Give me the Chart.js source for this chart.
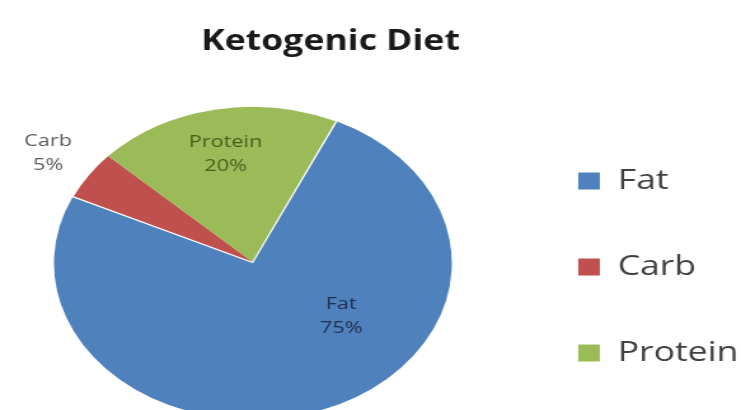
<!DOCTYPE html>
<html>
<head>
<meta charset="utf-8">
<title>Ketogenic Diet</title>
<script src="https://cdn.jsdelivr.net/npm/chart.js@4.4.1/dist/chart.umd.min.js"></script>
<style>
  html, body { margin: 0; padding: 0; background: #fff; overflow: hidden; }
  /* the reference is stretched sideways, so the bitmap is drawn narrow and widened by css */
  #chart { display: block; width: 741px !important; height: 430px !important; }
</style>
</head>
<body>
<canvas id="chart" width="583" height="430"></canvas>
<script>
const categories = ['Fat', 'Carb', 'Protein'];
const shares = [75, 5, 20];

const sliceColors = ['#4F81BD', '#C0504D', '#9BBB59'];
const labelColors = ['#1F2F4F', '#595959', '#44611B'];
// label spot per slice: [fraction of the slice angle, fraction of the radius]
const labelSpots = [[0.38, 0.57], [0.5, 1.25], [0.5, 0.71]];
const titleCenterX = 260;

// draws "name / percent" for each slice, Excel style
const sliceLabels = {
  id: 'sliceLabels',
  afterDatasetsDraw(chart) {
    const ctx = chart.ctx;
    const meta = chart.getDatasetMeta(0);
    const total = shares.reduce((a, b) => a + b, 0);
    ctx.save();
    ctx.font = '17px "Open Sans", sans-serif';
    ctx.textAlign = 'center';
    ctx.textBaseline = 'middle';
    meta.data.forEach((arc, i) => {
      const {x, y, startAngle, endAngle, outerRadius} =
        arc.getProps(['x', 'y', 'startAngle', 'endAngle', 'outerRadius'], true);
      const [along, out] = labelSpots[i];
      const a = startAngle + (endAngle - startAngle) * along;
      const lx = x + Math.cos(a) * outerRadius * out;
      const ly = y + Math.sin(a) * outerRadius * out;
      ctx.fillStyle = labelColors[i];
      ctx.fillText(categories[i], lx, ly - 12);
      ctx.fillText(Math.round(shares[i] / total * 100) + '%', lx, ly + 12);
    });
    ctx.restore();
  }
};

// title sits between the pie and the legend, not over the whole canvas
const titleNudge = {
  id: 'titleNudge',
  afterLayout(chart) {
    const t = chart.titleBlock;
    const w = t.right - t.left;
    t.left = titleCenterX - w / 2;
    t.right = titleCenterX + w / 2;
  }
};

new Chart(document.getElementById('chart'), {
  type: 'pie',
  data: {
    labels: categories,
    datasets: [{
      data: shares,
      backgroundColor: sliceColors,
      borderWidth: 0,
      offset: [6, 0, 0],
      radius: 155
    }]
  },
  options: {
    responsive: false,
    animation: false,
    rotation: 25,
    layout: {
      padding: { left: -5, right: -8, top: 0, bottom: 5 }
    },
    plugins: {
      title: {
        display: true,
        text: 'Ketogenic Diet',
        color: '#1a1a1a',
        font: { family: '"Open Sans", sans-serif', size: 28, weight: 'bold' },
        padding: { top: 25, bottom: 40 }
      },
      legend: {
        position: 'right',
        align: 'end',
        fullSize: false,
        labels: {
          boxWidth: 17,
          boxHeight: 17,
          padding: 58,
          color: '#404040',
          font: { family: '"Open Sans", sans-serif', size: 28 }
        }
      },
      tooltip: { enabled: false }
    }
  },
  plugins: [sliceLabels, titleNudge]
});
</script>
</body>
</html>
